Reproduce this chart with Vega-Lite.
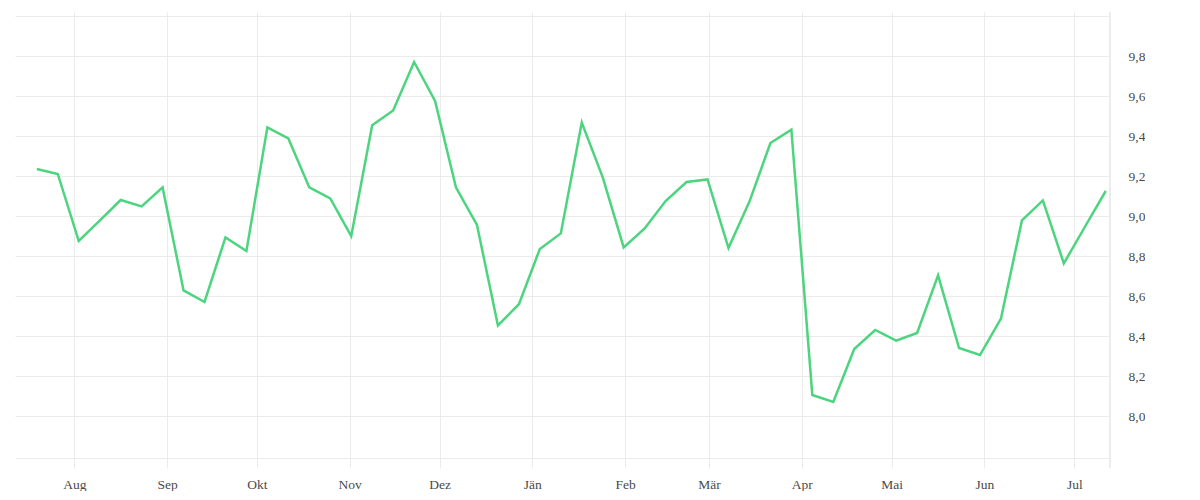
{
  "$schema": "https://vega.github.io/schema/vega-lite/v6.json",
  "width": 1095,
  "height": 456,
  "padding": {"left": 15, "top": 8, "right": 0, "bottom": 0},
  "background": "white",
  "config": {"view": {"stroke": null}},
  "data": {"values": [
    {"date": "2018-07-19T12:00:00Z", "value": 9.235},
    {"date": "2018-07-26T12:00:00Z", "value": 9.21},
    {"date": "2018-08-02T12:00:00Z", "value": 8.875},
    {"date": "2018-08-09T12:00:00Z", "value": 8.977},
    {"date": "2018-08-16T12:00:00Z", "value": 9.08},
    {"date": "2018-08-23T12:00:00Z", "value": 9.048},
    {"date": "2018-08-30T12:00:00Z", "value": 9.143},
    {"date": "2018-09-06T12:00:00Z", "value": 8.628},
    {"date": "2018-09-13T12:00:00Z", "value": 8.57},
    {"date": "2018-09-20T12:00:00Z", "value": 8.893},
    {"date": "2018-09-27T12:00:00Z", "value": 8.825},
    {"date": "2018-10-04T12:00:00Z", "value": 9.443},
    {"date": "2018-10-11T12:00:00Z", "value": 9.388},
    {"date": "2018-10-18T12:00:00Z", "value": 9.143},
    {"date": "2018-10-25T12:00:00Z", "value": 9.088},
    {"date": "2018-11-01T12:00:00Z", "value": 8.899},
    {"date": "2018-11-08T12:00:00Z", "value": 9.454},
    {"date": "2018-11-15T12:00:00Z", "value": 9.528},
    {"date": "2018-11-22T12:00:00Z", "value": 9.77},
    {"date": "2018-11-29T12:00:00Z", "value": 9.575},
    {"date": "2018-12-06T12:00:00Z", "value": 9.142},
    {"date": "2018-12-13T12:00:00Z", "value": 8.955},
    {"date": "2018-12-20T12:00:00Z", "value": 8.453},
    {"date": "2018-12-27T12:00:00Z", "value": 8.559},
    {"date": "2019-01-03T12:00:00Z", "value": 8.835},
    {"date": "2019-01-10T12:00:00Z", "value": 8.913},
    {"date": "2019-01-17T12:00:00Z", "value": 9.467},
    {"date": "2019-01-24T12:00:00Z", "value": 9.193},
    {"date": "2019-01-31T12:00:00Z", "value": 8.843},
    {"date": "2019-02-07T12:00:00Z", "value": 8.938},
    {"date": "2019-02-14T12:00:00Z", "value": 9.075},
    {"date": "2019-02-21T12:00:00Z", "value": 9.17},
    {"date": "2019-02-28T12:00:00Z", "value": 9.183},
    {"date": "2019-03-07T12:00:00Z", "value": 8.84},
    {"date": "2019-03-14T12:00:00Z", "value": 9.072},
    {"date": "2019-03-21T12:00:00Z", "value": 9.365},
    {"date": "2019-03-28T12:00:00Z", "value": 9.432},
    {"date": "2019-04-04T12:00:00Z", "value": 8.105},
    {"date": "2019-04-11T12:00:00Z", "value": 8.07},
    {"date": "2019-04-18T12:00:00Z", "value": 8.335},
    {"date": "2019-04-25T12:00:00Z", "value": 8.43},
    {"date": "2019-05-02T12:00:00Z", "value": 8.377},
    {"date": "2019-05-09T12:00:00Z", "value": 8.415},
    {"date": "2019-05-16T12:00:00Z", "value": 8.703},
    {"date": "2019-05-23T12:00:00Z", "value": 8.34},
    {"date": "2019-05-30T12:00:00Z", "value": 8.305},
    {"date": "2019-06-06T12:00:00Z", "value": 8.487},
    {"date": "2019-06-13T12:00:00Z", "value": 8.978},
    {"date": "2019-06-20T12:00:00Z", "value": 9.078},
    {"date": "2019-06-27T12:00:00Z", "value": 8.763},
    {"date": "2019-07-04T12:00:00Z", "value": 8.945},
    {"date": "2019-07-11T12:00:00Z", "value": 9.125}
  ]},
  "layer": [
    {
      "mark": {"type": "rule", "color": "#ebebeb", "strokeWidth": 1},
      "encoding": {
        "x": {"datum": {"year": 2019, "month": 7, "date": 12, "hours": 22, "utc": true}, "type": "temporal"}
      }
    },
    {
      "mark": {"type": "line", "color": "#4cd47f", "strokeWidth": 2.5, "interpolate": "linear"},
      "encoding": {
        "x": {
          "field": "date",
          "type": "temporal",
          "scale": {"type": "utc", "domain": ["2018-07-12T05:00:00Z", "2019-07-12T22:00:00Z"], "nice": false},
          "axis": {
            "title": null,
            "orient": "bottom",
            "domain": false,
            "ticks": false,
            "grid": true,
            "gridColor": "#ebebeb",
            "gridWidth": 1,
            "values": [
              {"year": 2018, "month": 8, "date": 1, "utc": true},
              {"year": 2018, "month": 9, "date": 1, "utc": true},
              {"year": 2018, "month": 10, "date": 1, "utc": true},
              {"year": 2018, "month": 11, "date": 1, "utc": true},
              {"year": 2018, "month": 12, "date": 1, "utc": true},
              {"year": 2019, "month": 1, "date": 1, "utc": true},
              {"year": 2019, "month": 2, "date": 1, "utc": true},
              {"year": 2019, "month": 3, "date": 1, "utc": true},
              {"year": 2019, "month": 4, "date": 1, "utc": true},
              {"year": 2019, "month": 5, "date": 1, "utc": true},
              {"year": 2019, "month": 6, "date": 1, "utc": true},
              {"year": 2019, "month": 7, "date": 1, "utc": true}
            ],
            "labelExpr": "['Jän','Feb','Mär','Apr','Mai','Jun','Jul','Aug','Sep','Okt','Nov','Dez'][utcmonth(datum.value)]",
            "labelFont": "Liberation Serif",
            "labelFontSize": 13.5,
            "labelColor": "#4a4a4a",
            "labelPadding": 9,
            "labelFlush": false,
            "labelOverlap": false
          }
        },
        "y": {
          "field": "value",
          "type": "quantitative",
          "scale": {"domain": [7.74, 10.02], "nice": false, "zero": false},
          "axis": {
            "title": null,
            "orient": "right",
            "domain": false,
            "ticks": false,
            "grid": true,
            "gridColor": "#ebebeb",
            "gridWidth": 1,
            "values": [7.789, 8.0, 8.2, 8.4, 8.6, 8.8, 9.0, 9.2, 9.4, 9.6, 9.8, 10.0],
            "labelExpr": "datum.value < 7.9 || datum.value > 9.9 ? '' : replace(format(datum.value, '.1f'), '.', ',')",
            "labelFont": "Liberation Serif",
            "labelFontSize": 13.5,
            "labelColor": "#4a4a4a",
            "labelPadding": 18,
            "labelAlign": "left",
            "labelBaseline": "middle",
            "labelFlush": false,
            "labelOverlap": false
          }
        }
      }
    }
  ]
}
